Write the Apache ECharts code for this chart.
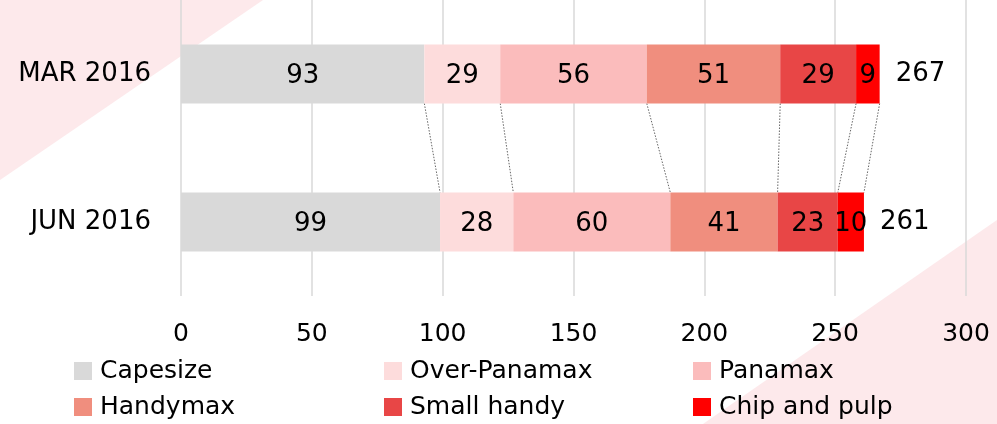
<!DOCTYPE html>
<html>
<head>
<meta charset="utf-8">
<script src="https://cdn.jsdelivr.net/npm/echarts@6/dist/echarts.min.js"></script>
<style>
  html, body { margin: 0; padding: 0; background: #fff; }
  #chart { width: 997px; height: 424px; }
</style>
</head>
<body>
<div id="chart"></div>
<script>
// data
var periods = ["MAR 2016", "JUN 2016"];
var classes = ["Capesize", "Over-Panamax", "Panamax", "Handymax", "Small handy", "Chip and pulp"];
var capesize = [93, 99];
var overPanamax = [29, 28];
var panamax = [56, 60];
var handymax = [51, 41];
var smallHandy = [29, 23];
var chipPulp = [9, 10];
var xTicks = [0, 50, 100, 150, 200, 250, 300];

var colors = ["#d9d9d9", "#fddcdc", "#fbbcbc", "#f08e7e", "#e84646", "#ff0000"];
var values = [capesize, overPanamax, panamax, handymax, smallHandy, chipPulp];
var FONT = "DejaVu Sans";
var BAR_W = 59;

var totals = periods.map(function (p, i) {
  return values.reduce(function (s, v) { return s + v[i]; }, 0);
});

// cumulative boundaries for the dotted connectors
var connectors = [];
var accA = 0, accB = 0;
values.forEach(function (v) {
  accA += v[0]; accB += v[1];
  connectors.push([accA, accB]);
});

var series = classes.map(function (name, k) {
  return {
    name: name,
    type: "bar",
    stack: "total",
    barWidth: BAR_W,
    itemStyle: { color: colors[k] },
    label: {
      show: true,
      position: "inside",
      color: "#000",
      fontFamily: FONT,
      fontSize: 26,
      offset: [0, 2]
    },
    data: values[k]
  };
});

series.push({
  type: "scatter",
  symbolSize: 0,
  silent: true,
  itemStyle: { opacity: 1 },
  label: {
    show: true,
    position: "right",
    distance: 16,
    color: "#000",
    opacity: 1,
    fontFamily: FONT,
    fontSize: 26,
    formatter: function (p) { return p.value[0]; }
  },
  data: totals.map(function (t, i) { return [t, periods[i]]; })
});

series.push({
  type: "custom",
  silent: true,
  z: 1,
  renderItem: function (params, api) {
    var a = api.coord([api.value(0), periods[0]]);
    var b = api.coord([api.value(1), periods[1]]);
    return {
      type: "line",
      shape: { x1: a[0], y1: a[1] + BAR_W / 2, x2: b[0], y2: b[1] - BAR_W / 2 },
      style: { stroke: "#666", lineWidth: 1, lineDash: [1.5, 1.5] }
    };
  },
  data: connectors
});

function legendCol(left, names) {
  return {
    orient: "vertical",
    left: left,
    top: 358,
    height: 100,
    padding: 0,
    itemWidth: 18,
    itemHeight: 18,
    itemGap: 10,
    icon: "rect",
    data: names,
    textStyle: { fontFamily: FONT, fontSize: 25, color: "#000", lineHeight: 26, padding: [0, 0, 0, 3] }
  };
}

var chart = echarts.init(document.getElementById("chart"));
chart.setOption({
  animation: false,
  backgroundColor: "#fff",
  color: colors,
  graphic: [
    { type: "polygon", z: -10, shape: { points: [[0, 0], [263, 0], [0, 180]] }, style: { fill: "#fde9eb" } },
    { type: "polygon", z: -10, shape: { points: [[997, 220], [997, 424], [703, 424]] }, style: { fill: "#fde9eb" } }
  ],
  grid: { left: 181, right: 31, top: 0, height: 296, containLabel: false },
  xAxis: {
    type: "value",
    min: xTicks[0],
    max: xTicks[xTicks.length - 1],
    interval: 50,
    axisLine: { show: false },
    axisTick: { show: false },
    splitLine: { lineStyle: { color: "#d9d9d9", width: 1.5 } },
    axisLabel: { color: "#000", fontFamily: FONT, fontSize: 25, margin: 26 }
  },
  yAxis: {
    type: "category",
    inverse: true,
    data: periods,
    axisLine: { show: false },
    axisTick: { show: false },
    axisLabel: { color: "#000", fontFamily: FONT, fontSize: 26, margin: 30 }
  },
  legend: [
    legendCol(74, [classes[0], classes[3]]),
    legendCol(384, [classes[1], classes[4]]),
    legendCol(693, [classes[2], classes[5]])
  ],
  series: series
});
</script>
</body>
</html>
